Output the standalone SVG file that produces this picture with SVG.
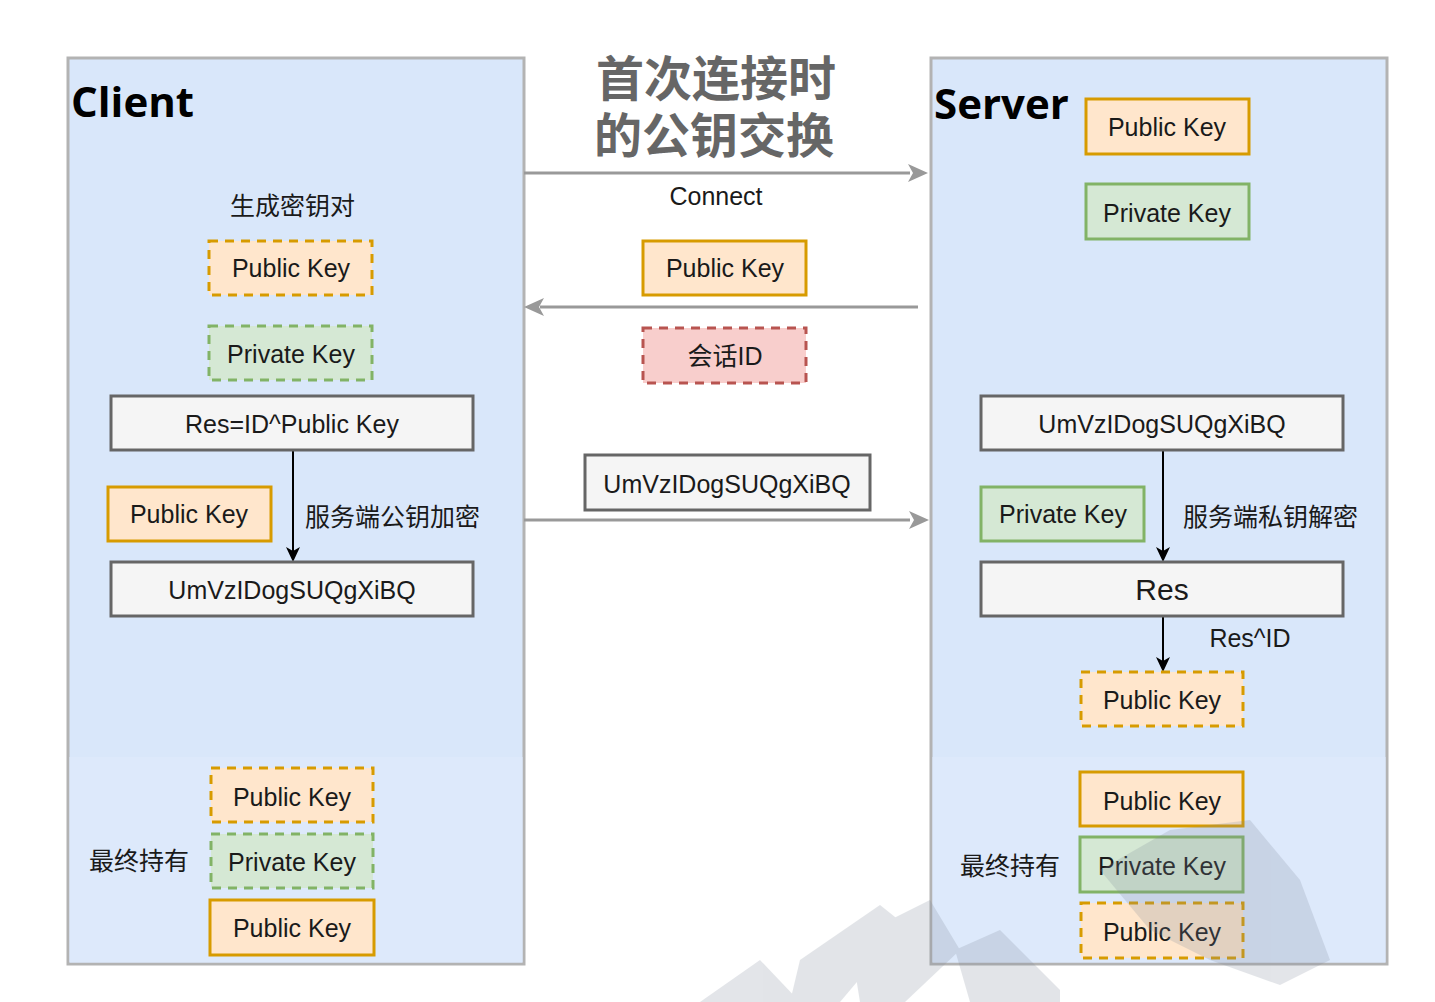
<svg xmlns="http://www.w3.org/2000/svg" width="1435" height="1002" viewBox="0 0 1435 1002">
<defs>
<style>
.t{font-family:"Liberation Sans","Noto Sans CJK SC",sans-serif;font-size:25px;fill:#1a1a1a;text-anchor:middle}
.cn{font-family:"Liberation Sans","Noto Sans CJK SC",sans-serif;font-size:25px;fill:#1a1a1a}
.hd{font-family:"Open Sans","Noto Sans",sans-serif;font-weight:bold;font-size:42px;fill:#000}
.ttl{font-family:"Noto Sans CJK SC",sans-serif;font-weight:bold;font-size:48px;fill:#666;text-anchor:middle}
.pub{fill:#ffe6cc;stroke:#d79b00;stroke-width:3}
.prv{fill:#d5e8d4;stroke:#82b366;stroke-width:3}
.sid{fill:#f8cecc;stroke:#b85450;stroke-width:3}
.dat{fill:#f5f5f5;stroke:#666;stroke-width:3}
.dash{stroke-dasharray:9 7}
.gl{stroke:#999;stroke-width:3;fill:none}
.bl{stroke:#000;stroke-width:2;fill:none}
</style>
</defs>
<rect width="1435" height="1002" fill="#fff"/>

<g id="client">
<rect x="68" y="58" width="456" height="906" fill="#d9e7fa" stroke="#b3b3b3" stroke-width="3"/>
<rect x="69.5" y="757" width="453" height="205.5" fill="#dde9fb"/>
<text class="hd" x="71" y="117">Client</text>
</g>
<g id="server">
<rect x="931" y="58" width="456" height="906" fill="#d9e7fa" stroke="#b3b3b3" stroke-width="3"/>
<rect x="932.5" y="757" width="453" height="205.5" fill="#dde9fb"/>
<text class="hd" x="934" y="119">Server</text>
</g>

<g id="title">
<text class="ttl"><tspan x="716" y="96">首次连接时</tspan><tspan x="714" y="153">的公钥交换</tspan></text>
</g>

<g id="connectors">
<line class="gl" x1="524" y1="173" x2="910" y2="173"/>
<path d="M928,173 l-20,-9 l5,9 l-5,9 z" fill="#999"/>
<line class="gl" x1="918" y1="307" x2="540" y2="307"/>
<path d="M524,307 l20,-9 l-5,9 l5,9 z" fill="#999"/>
<line class="gl" x1="524" y1="520" x2="910" y2="520"/>
<path d="M929,520 l-20,-9 l5,9 l-5,9 z" fill="#999"/>
<line class="bl" x1="293" y1="451" x2="293" y2="556"/>
<path d="M293,562 l-7,-15 l7,4 l7,-4 z" fill="#000"/>
<line class="bl" x1="1163" y1="451" x2="1163" y2="556"/>
<path d="M1163,562 l-7,-15 l7,4 l7,-4 z" fill="#000"/>
<line class="bl" x1="1163" y1="617" x2="1163" y2="666"/>
<path d="M1163,672 l-7,-15 l7,4 l7,-4 z" fill="#000"/>
</g>

<text class="t" x="716" y="205">Connect</text>

<g id="mid-pub"><rect class="pub" x="643" y="241" width="163" height="54"/><text class="t" x="725" y="277">Public Key</text></g>
<g id="mid-sid"><rect class="sid dash" x="643" y="328" width="163" height="55"/><text class="t" x="725" y="365">会话ID</text></g>
<g id="mid-dat"><rect class="dat" x="585" y="455" width="285" height="55"/><text class="t" x="727" y="493">UmVzIDogSUQgXiBQ</text></g>

<text class="cn" x="230" y="215">生成密钥对</text>
<g id="c-pub1"><rect class="pub dash" x="209" y="241" width="163" height="54"/><text class="t" x="291" y="277">Public Key</text></g>
<g id="c-prv1"><rect class="prv dash" x="209" y="326" width="163" height="54"/><text class="t" x="291" y="363">Private Key</text></g>
<g id="c-res"><rect class="dat" x="111" y="396" width="362" height="54"/><text class="t" x="292" y="433">Res=ID^Public Key</text></g>
<g id="c-pub2"><rect class="pub" x="108" y="487" width="163" height="54"/><text class="t" x="189" y="523">Public Key</text></g>
<text class="cn" x="305" y="526">服务端公钥加密</text>
<g id="c-dat"><rect class="dat" x="111" y="562" width="362" height="54"/><text class="t" x="292" y="599">UmVzIDogSUQgXiBQ</text></g>

<text class="cn" x="89" y="870">最终持有</text>
<g id="c-pub3"><rect class="pub dash" x="211" y="768" width="162" height="54"/><text class="t" x="292" y="806">Public Key</text></g>
<g id="c-prv3"><rect class="prv dash" x="211" y="834" width="162" height="54"/><text class="t" x="292" y="871">Private Key</text></g>
<g id="c-pub4"><rect class="pub" x="210" y="900" width="164" height="55"/><text class="t" x="292" y="937">Public Key</text></g>

<g id="s-pub1"><rect class="pub" x="1086" y="99" width="163" height="55"/><text class="t" x="1167" y="136">Public Key</text></g>
<g id="s-prv1"><rect class="prv" x="1086" y="184" width="163" height="55"/><text class="t" x="1167" y="222">Private Key</text></g>
<g id="s-dat"><rect class="dat" x="981" y="396" width="362" height="54"/><text class="t" x="1162" y="433">UmVzIDogSUQgXiBQ</text></g>
<g id="s-prv2"><rect class="prv" x="981" y="487" width="163" height="54"/><text class="t" x="1063" y="523">Private Key</text></g>
<text class="cn" x="1183" y="526">服务端私钥解密</text>
<g id="s-res"><rect class="dat" x="981" y="562" width="362" height="54"/><text class="t" x="1162" y="600" style="font-size:30px">Res</text></g>
<text class="t" x="1250" y="647">Res^ID</text>
<g id="s-pub2"><rect class="pub dash" x="1081" y="672" width="162" height="54"/><text class="t" x="1162" y="709">Public Key</text></g>

<text class="cn" x="960" y="875">最终持有</text>
<g id="s-pub3"><rect class="pub" x="1080" y="772" width="163" height="54"/><text class="t" x="1162" y="810">Public Key</text></g>
<g id="s-prv3"><rect class="prv" x="1080" y="837" width="163" height="55"/><text class="t" x="1162" y="875">Private Key</text></g>
<g id="s-pub4"><rect class="pub dash" x="1081" y="903" width="162" height="55"/><text class="t" x="1162" y="941">Public Key</text></g>

<g id="watermark" fill="#7f8a99" opacity="0.22">
<polygon points="700,1002 760,960 800,1002"/>
<polygon points="800,960 880,905 905,925 840,1002 790,1002"/>
<polygon points="850,940 930,900 960,950 905,1002 860,1002"/>
<polygon points="955,950 1000,930 1060,990 1060,1002 970,1002"/>
<polygon points="1100,870 1170,830 1250,820 1300,880 1330,960 1280,985 1210,960 1150,930"/>
</g>
</svg>
